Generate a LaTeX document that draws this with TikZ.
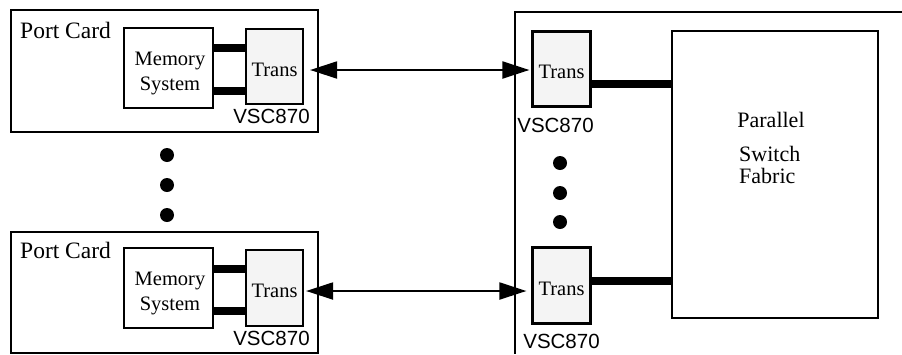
\documentclass[tikz,border=0pt]{standalone}
\usepackage{fontspec}
\setmainfont{Liberation Serif}
\newfontfamily\lsans{Liberation Sans}
\usetikzlibrary{arrows.meta}
\definecolor{transfill}{HTML}{F4F4F4}
\tikzset{
  frame/.style={draw, line width=2.2pt, inner sep=0pt},
  membox/.style={frame, fill=white, minimum width=89pt, minimum height=80pt},
  memtext/.style={inner sep=0pt, anchor=north, align=center, font=\fontsize{20.5}{25}\selectfont},
  transbox/.style={frame, fill=transfill, minimum width=57pt, minimum height=76pt,
    text height=19pt, text depth=0pt, font=\fontsize{20.5}{25}\selectfont},
  fabricbox/.style={frame, minimum width=206pt, minimum height=287pt},
  lbl/.style={inner sep=0pt, font=\fontsize{22}{26}\selectfont},
  cardlbl/.style={inner sep=0pt, anchor=base west, font=\fontsize{23.5}{28}\selectfont},
  vsc/.style={inner sep=0pt, anchor=base, font=\lsans\fontsize{20.5}{25}\selectfont},
  bus/.style={line width=7.5pt},
  link/.style={line width=2pt, {Triangle[length=27pt,width=17pt]}-{Triangle[length=27pt,width=17pt]}},
  blob/.style={circle, fill=black, inner sep=0pt, minimum size=14pt},
}
\begin{document}
\begin{tikzpicture}[x=1pt,y=-1pt]
\useasboundingbox (0,0) rectangle (902,354);
% port cards
\node[frame, minimum width=307pt, minimum height=122pt] (pc1) at (164.5,71) {};
\node[frame, minimum width=307pt, minimum height=121pt] (pc2) at (164.5,292.5) {};
\node[cardlbl] (pcl1) at (20,38) {Port Card};
\node[cardlbl] (pcl2) at (20,258) {Port Card};
% memory systems
\node[membox] (m1) at (168.5,68) {};
\node[membox] (m2) at (168.5,288) {};
\node[memtext] (mt1) at (170,51.5) {Memory\\System};
\node[memtext] (mt2) at (170,271.5) {Memory\\System};
% trans on port cards
\node[transbox, minimum height=75pt] (t1) at (274.5,66.5) {Trans};
\node[transbox] (t2) at (274.5,288) {Trans};
\node[vsc] (v1) at (271.5,123) {VSC870};
\node[vsc] (v2) at (271.5,345) {VSC870};
% buses
\draw[bus] (m1.east |- 0,48) -- (t1.west |- 0,48);
\draw[bus] (m1.east |- 0,91) -- (t1.west |- 0,91);
\draw[bus] (m2.east |- 0,269) -- (t2.west |- 0,269);
\draw[bus] (m2.east |- 0,311) -- (t2.west |- 0,311);
% switch side open frame
\coordinate (sw) at (515,12);
\draw[line width=2.2pt] (902,12) -- (sw) -- (515,354);
% switch-side trans
\node[transbox, minimum width=58pt, minimum height=75pt] (rt1) at (561.5,69) {Trans};
\node[transbox, minimum width=58pt, minimum height=76pt] (rt2) at (561.5,285.5) {Trans};
\node[vsc] (rv1) at (555.5,132) {VSC870};
\node[vsc] (rv2) at (561.5,348) {VSC870};
% fabric
\node[fabricbox] (fab) at (775,174.5) {};
\node[lbl, anchor=base] (fp) at (771,127) {Parallel};
\node[lbl, anchor=base west] (fs) at (739,161) {Switch};
\node[lbl, anchor=base west] (ff) at (739,183) {Fabric};
\draw[bus] (rt1.east |- 0,84) -- (fab.west |- 0,84);
\draw[bus] (rt2.east |- 0,281) -- (fab.west |- 0,281);
% links
\draw[link] ([xshift=6pt]t1.east |- 0,70) -- ([xshift=-2pt]rt1.west |- 0,70);
\draw[link] ([xshift=2pt]t2.east |- 0,291) -- ([xshift=-5pt]rt2.west |- 0,291);
% dots
\node[blob] (d1) at (167,155) {};
\node[blob] (d2) at (167,185) {};
\node[blob] (d3) at (167,215) {};
\node[blob] (d4) at (560,163) {};
\node[blob] (d5) at (560,193) {};
\node[blob] (d6) at (560,222) {};
\end{tikzpicture}
\end{document}
